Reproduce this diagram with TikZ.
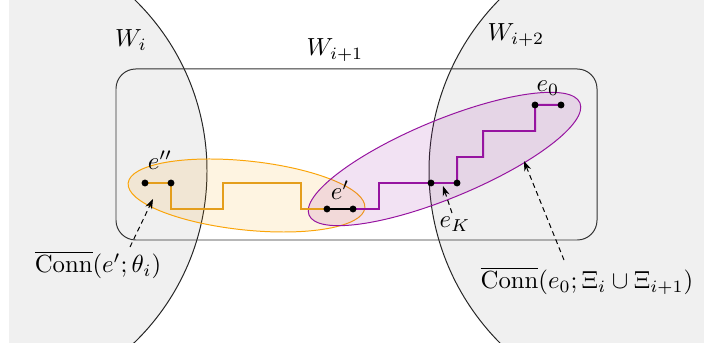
\documentclass[tikz,border=0pt]{standalone}
\usepackage{amsmath,amssymb}
\usepackage{xcolor}
\usepackage{tikz}
\usetikzlibrary{calc,arrows.meta}
\definecolor{clusterorange}{RGB}{250,165,10}
\definecolor{pathorange}{RGB}{228,158,28}
\definecolor{pathpurple}{RGB}{150,20,160}

\begin{document}
\begin{tikzpicture}[x=1.42mm,y=1.42mm]
    \useasboundingbox (0,0) rectangle (70.4,34.6);

    % Regions W_i and W_{i+2}
    \begin{scope}
        \clip (0.9,0.4) rectangle (70.4,34.6);
        \fill[gray!12] (-3.2,17.5) circle (23.9);
        \fill[gray!12] (67.3,17.5) circle (24.4);
        \draw[thin, black!85] (-3.2,17.5) circle (23.9);
        \draw[thin, black!85] (67.3,17.5) circle (24.4);
    \end{scope}

    % Region W_{i+1}
    \draw[black!80, rounded corners=2.8mm] (11.6,10.6) rectangle (59.7,27.7);

    % Clusters
    \draw[clusterorange, fill=clusterorange, fill opacity=0.12, shift={(24.65,15.05)}, rotate=-6] (0,0) ellipse (11.9 and 3.45);
    \draw[pathpurple, fill=pathpurple, fill opacity=0.12, shift={(44.45,18.7)}, rotate=22.5] (0,0) ellipse (14.66 and 3.9);

    % Paths on the lattice
    \begin{scope}[shift={(14.5,13.7)}, scale=2.6]
        \coordinate (A) at (0,1);
        \coordinate (B) at (1,1);
        \coordinate (C) at (7,0);
        \coordinate (D) at (8,0);
        \coordinate (E) at (11,1);
        \coordinate (F) at (12,1);
        \coordinate (G) at (15,4);
        \coordinate (H) at (16,4);

        \draw[thick, pathorange] (A) -- (B) -- (1,0) -- (3,0) -- (3,1) -- (6,1) -- (6,0) -- (C);
        \draw[thick] (C) -- (D);
        \draw[thick, pathpurple] (D) -- (9,0) -- (9,1) -- (E) -- (F) -- (12,2) -- (13,2) -- (13,3) -- (15,3) -- (G) -- (H);
    \end{scope}
    \foreach \p in {A,B,C,D,E,F,G,H}
        \fill (\p) circle (1.4pt);

    % Labels
    \node (lWi) at (13.1,30.6) {$W_i$};
    \node (lWj) at (33.5,29.6) {$W_{i+1}$};
    \node (lWk) at (51.6,31.1) {$W_{i+2}$};
    \node (le2) at (16.0,18.6) {$e''$};
    \node (le1) at (34.0,15.6) {$e'$};
    \node (le0) at (54.8,25.8) {$e_0$};
    \node (leK) at (45.5,12.2) {$e_K$};
    \node (connA) at (9.8,8.1) {$\overline{\mathrm{Conn}}(e';\theta_i)$};
    \node (connB) at (58.7,6.5) {$\overline{\mathrm{Conn}}(e_0;\Xi_i\cup\Xi_{i+1})$};

    % Pointers
    \coordinate (sA) at (13.0,9.9);
    \coordinate (tA) at (15.3,14.7);
    \coordinate (sB) at (56.4,8.6);
    \coordinate (tB) at (52.4,18.5);
    \coordinate (sK) at (45.2,13.3);
    \coordinate (tK) at (44.3,16.0);
    \draw[dash pattern=on 2pt off 1.5pt, -{Stealth[length=1.4mm,width=1mm]}] (sA) -- (tA);
    \draw[dash pattern=on 2pt off 1.5pt, -{Stealth[length=1.4mm,width=1mm]}] (sB) -- (tB);
    \draw[dash pattern=on 2pt off 1.5pt, -{Stealth[length=1.4mm,width=1mm]}] (sK) -- (tK);
\end{tikzpicture}
\end{document}
